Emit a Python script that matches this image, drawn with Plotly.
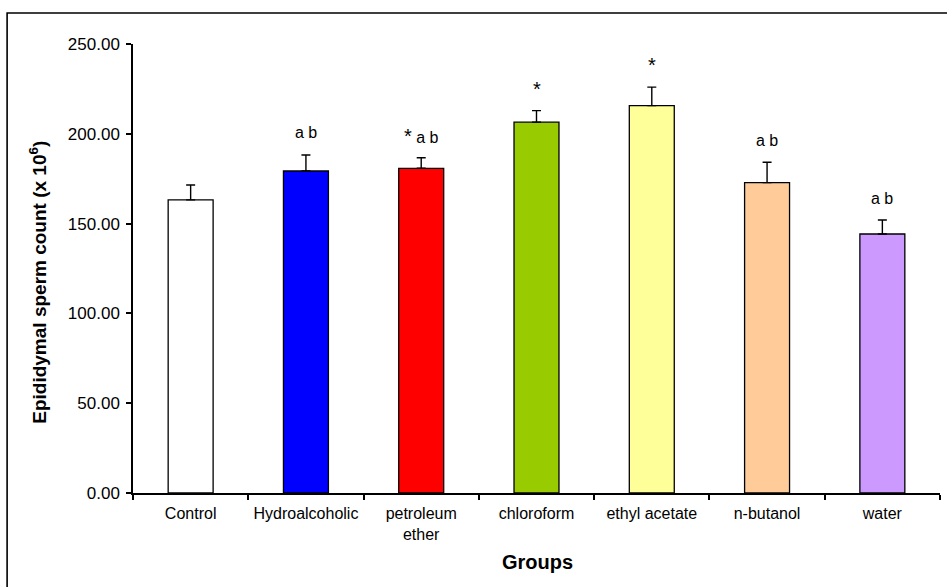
import plotly.graph_objects as go

groups = ["Control", "Hydroalcoholic", "petroleum<br>ether", "chloroform",
          "ethyl acetate", "n-butanol", "water"]
means = [163.2, 179.3, 180.8, 206.5, 215.7, 172.8, 144.2]
sems = [8.3, 8.9, 5.9, 6.4, 10.3, 11.4, 7.8]
marks = ["", "a b", "* a b", "*", "*", "a b", "a b"]
colors = ["#FFFFFF", "#0000FF", "#FF0000", "#99CC00", "#FFFF99", "#FFCC99", "#CC99FF"]
yticks = [0, 50, 100, 150, 200, 250]

FONT = "Liberation Sans, Arial, Helvetica, sans-serif"

fig = go.Figure()
fig.add_trace(go.Bar(
    x=groups, y=means, width=0.39,
    marker=dict(color=colors, line=dict(color="black", width=1.3)),
    error_y=dict(type="data", symmetric=False, array=sems,
                 arrayminus=[0] * len(sems), color="black",
                 thickness=1.4, width=4.5),
    showlegend=False, hoverinfo="skip",
))

STAR = "<span style='font-size:20px'>*</span>"
for g, m, s, t in zip(groups, means, sems, marks):
    if t:
        fig.add_annotation(x=g, y=m + s, text=t.replace("*", STAR), showarrow=False,
                           yanchor="middle", yshift=22,
                           font=dict(family=FONT, size=16, color="black"))

fig.add_annotation(xref="paper", yref="paper", x=0.5017, y=-0.1545,
                   text="<b>Groups</b>", showarrow=False,
                   xanchor="center", yanchor="middle",
                   font=dict(family=FONT, size=20, color="black"))
fig.add_annotation(xref="paper", yref="paper", x=-0.118, y=0.47,
                   text="<b>Epididymal sperm count (x 10<sup>6</sup>)</b>",
                   textangle=-90, showarrow=False,
                   xanchor="center", yanchor="middle",
                   font=dict(family=FONT, size=19, color="black"))

fig.add_shape(type="rect", xref="paper", yref="paper",
              x0=-0.156, x1=1.03, y0=-0.25, y1=1.069,
              line=dict(color="black", width=1.6), fillcolor="rgba(0,0,0,0)",
              layer="above")

fig.update_layout(
    width=947, height=587,
    margin=dict(l=133, r=7, t=44, b=94),
    plot_bgcolor="white", paper_bgcolor="white",
    font=dict(family=FONT, color="black"),
    bargap=0.6,
)
fig.update_xaxes(
    type="category", range=[-0.5, 6.5],
    showline=True, linecolor="black", linewidth=1.5,
    ticks="outside", tickson="boundaries", ticklen=5, tickwidth=1.5,
    tickcolor="black", showgrid=False, ticklabelstandoff=5,
    tickfont=dict(family=FONT, size=16, color="black"),
)
fig.update_yaxes(
    range=[0, 250], tickvals=yticks, tickformat=".2f",
    showline=True, linecolor="black", linewidth=1.5,
    ticks="outside", ticklen=5, tickwidth=1.5, tickcolor="black",
    showgrid=False, zeroline=False, ticklabelstandoff=3,
    tickfont=dict(family=FONT, size=17, color="black"),
)

fig.write_html("out.html",
               config={"displayModeBar": False},
               post_script="document.body.style.margin='0';document.body.style.padding='0';document.body.style.overflow='hidden';")
